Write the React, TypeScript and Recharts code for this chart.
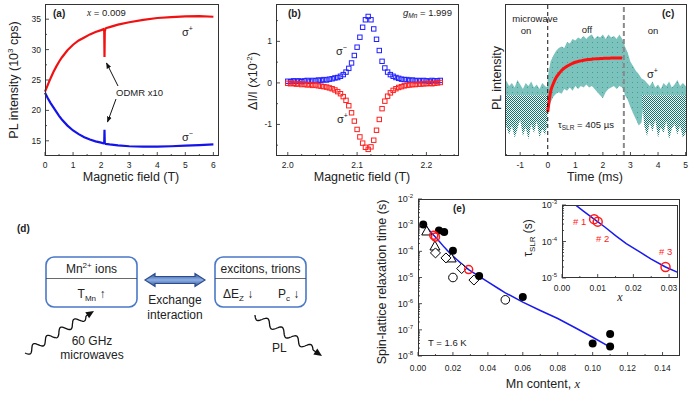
import React from "react";
import {
  LineChart,
  Line,
  XAxis,
  YAxis,
  ScatterChart,
  Scatter,
  ComposedChart,
  Area,
  ReferenceLine,
} from "recharts";

const FONT = "'Liberation Sans', Arial, Helvetica, sans-serif";
const SERIF = "'Liberation Serif', 'DejaVu Serif', serif";

// (a) PL intensity vs magnetic field, x = 0.009
const fieldA = [0, 0.1, 0.2, 0.3, 0.4, 0.5, 0.6, 0.8, 1.0, 1.2, 1.4, 1.6, 1.8, 2.0, 2.08, 2.11, 2.12, 2.13, 2.16, 2.3, 2.6, 3.0, 3.5, 4.0, 4.5, 5.0, 5.5, 6.0];
const plPlusA = [23.1, 24.2, 25.3, 26.3, 27.2, 28.0, 28.7, 29.9, 30.8, 31.5, 32.0, 32.5, 32.9, 33.2, 33.35, 33.0, 28.8, 33.0, 33.5, 33.7, 34.1, 34.5, 34.9, 35.2, 35.35, 35.45, 35.5, 35.4];
const plMinusA = [22.9, 22.0, 21.2, 20.5, 19.8, 19.1, 18.5, 17.5, 16.7, 16.1, 15.6, 15.2, 14.9, 14.7, 14.6, 14.7, 16.8, 14.6, 14.5, 14.4, 14.25, 14.1, 14.05, 14.05, 14.1, 14.2, 14.3, 14.4];

// (b) ODMR signal dI/I (x1e-2)
const fieldB = [
  2.0, 2.004, 2.008, 2.012, 2.016, 2.02, 2.024, 2.028, 2.032, 2.036, 2.04, 2.044, 2.048, 2.052,
  2.056, 2.06, 2.064, 2.068, 2.072, 2.076, 2.08, 2.084, 2.088, 2.092, 2.096, 2.1, 2.104, 2.108,
  2.112, 2.116, 2.12, 2.124, 2.128, 2.132, 2.136, 2.14, 2.144, 2.148, 2.152, 2.156, 2.16, 2.164,
  2.168, 2.172, 2.176, 2.18, 2.184, 2.188, 2.192, 2.196, 2.2, 2.204, 2.208, 2.212, 2.216, 2.22,
];
const odmrMinus = [
  0.04, 0.03, 0.05, 0.04, 0.05, 0.03, 0.05, 0.06, 0.04, 0.06, 0.05, 0.07, 0.06, 0.08,
  0.07, 0.09, 0.1, 0.12, 0.13, 0.16, 0.2, 0.26, 0.35, 0.48, 0.66, 0.86, 1.1, 1.34,
  1.52, 1.6, 1.52, 1.3, 1.05, 0.78, 0.52, 0.36, 0.26, 0.2, 0.16, 0.13, 0.11, 0.09,
  0.08, 0.08, 0.06, 0.07, 0.05, 0.06, 0.05, 0.06, 0.05, 0.04, 0.06, 0.05, 0.05, 0.06,
];
const odmrPlus = [
  -0.01, -0.02, -0.01, -0.03, -0.02, -0.04, -0.03, -0.05, -0.04, -0.06, -0.05, -0.07, -0.08, -0.09,
  -0.1, -0.12, -0.14, -0.17, -0.21, -0.26, -0.33, -0.42, -0.55, -0.72, -0.92, -1.12, -1.3, -1.45,
  -1.55, -1.6, -1.54, -1.38, -1.14, -0.88, -0.62, -0.44, -0.32, -0.24, -0.18, -0.14, -0.11, -0.09,
  -0.07, -0.06, -0.05, -0.04, -0.04, -0.03, -0.03, -0.02, -0.02, -0.01, -0.02, -0.01, 0.0, 0.01,
];

// (c) time-resolved PL (arb. units 0..100): noise envelope, dense "on" floor, fit
const timeC = [
  -1.55, -1.4, -1.3, -1.2, -1.1, -1.0, -0.9, -0.8, -0.7, -0.6, -0.5, -0.4, -0.3, -0.2, -0.1, -0.02,
  0, 0.1, 0.2, 0.3, 0.4, 0.5, 0.6, 0.7, 0.8, 0.9, 1.0, 1.1, 1.2, 1.3, 1.4, 1.5, 1.6, 1.7, 1.8, 1.9,
  2.0, 2.1, 2.2, 2.3, 2.4, 2.5, 2.6, 2.7, 2.76,
  2.8, 2.9, 3.0, 3.1, 3.2, 3.3, 3.4, 3.5, 3.6, 3.7, 3.8, 3.9, 4.0, 4.1, 4.2, 4.3, 4.4, 4.5, 4.6, 4.7,
  4.8, 4.9, 5.05,
];
const noiseHi = [
  51, 46, 48, 45, 50, 47, 44, 48, 46, 49, 45, 47, 44, 48, 46, 45,
  52, 62, 66, 69, 71, 72, 71, 75, 74, 77, 76, 78, 77, 79, 77, 79, 80, 77, 79, 78,
  80, 77, 80, 78, 79, 77, 80, 77, 75,
  72, 68, 62, 59, 56, 54, 51, 50, 48, 46, 49, 45, 47, 44, 48, 46, 49, 45, 47, 50,
  46, 48, 45,
];
const noiseLo = [
  40, 40, 40, 40, 40, 40, 40, 40, 40, 40, 40, 40, 40, 40, 40, 40,
  29, 35, 39, 41, 42, 41, 44, 43, 45, 43, 46, 44, 46, 45, 47, 45, 46, 44, 42, 40,
  38, 42, 44, 45, 46, 44, 46, 45, 43,
  40, 37, 32, 28, 24, 20, 22, 40, 40, 40, 40, 40, 40, 40, 40, 40, 40, 40, 40, 40,
  40, 40, 40,
];
const floorTop = 40;
const floorLo = [
  22, 14, 20, 12, 18, 24, 13, 19, 11, 21, 15, 23, 12, 18, 14, 20,
  40, 40, 40, 40, 40, 40, 40, 40, 40, 40, 40, 40, 40, 40, 40, 40, 40, 40, 40, 40,
  40, 40, 40, 40, 40, 40, 40, 40, 40,
  40, 40, 40, 40, 40, 40, 40, 20, 13, 22, 16, 24, 12, 19, 15, 23, 11, 18, 21, 14,
  20, 12, 17,
];
const fitC: (number | null)[] = [
  null, null, null, null, null, null, null, null, null, null, null, null, null, null, null, null,
  29, 42, 47.5, 51.5, 54, 56.2, 57.8, 59, 60, 61, 61.7, 62.2, 62.6, 63, 63.3, 63.5, 63.7, 63.9, 64, 64.1,
  64.2, 64.3, 64.3, 64.4, 64.4, 64.5, 64.5, 64.5, null,
  null, null, null, null, null, null, null, null, null, null, null, null, null, null, null, null, null, null, null, null,
  null, null, null,
];

// (e) spin-lattice relaxation time vs Mn content
const filledX = [0.003, 0.012, 0.015, 0.02, 0.035, 0.06, 0.1, 0.11, 0.11];
const filledY = [1.05e-3, 6.3e-4, 5.5e-4, 1.05e-4, 1.15e-5, 1.8e-6, 3e-8, 7e-8, 2.3e-8];
const openCircX = [0.02, 0.05];
const openCircY = [1e-5, 1.4e-6];
const diamondX = [0.01, 0.016, 0.025, 0.032];
const diamondY = [8.7e-5, 5.6e-5, 2.2e-5, 8e-6];
const triangleX = [0.005, 0.0097, 0.019];
const triangleY = [6e-4, 1.6e-4, 5.6e-5];
const sampleX = [0.009, 0.01, 0.029];
const sampleY = [4.1e-4, 3.5e-4, 2.0e-5];
const sampleNames = ["# 1", "# 2", "# 3"];
const fitX = [0.003, 0.006, 0.009, 0.012, 0.015, 0.018, 0.022, 0.025, 0.029, 0.033, 0.04, 0.046, 0.05, 0.06, 0.07, 0.08, 0.09, 0.1, 0.11];
const fitY = [1.15e-3, 6.8e-4, 4.1e-4, 2.5e-4, 1.45e-4, 8.8e-5, 5.0e-5, 3.3e-5, 2.0e-5, 1.35e-5, 6.8e-6, 3.8e-6, 2.6e-6, 1.15e-6, 5.5e-7, 2.7e-7, 1.2e-7, 5.2e-8, 2.2e-8];

// ticks
const ticksAx = [0, 0.5, 1, 1.5, 2, 2.5, 3, 3.5, 4, 4.5, 5, 5.5, 6];
const ticksAy = [15, 17.5, 20, 22.5, 25, 27.5, 30, 32.5, 35];
const ticksBx = [2.0, 2.02, 2.04, 2.06, 2.08, 2.1, 2.12, 2.14, 2.16, 2.18, 2.2, 2.22, 2.24];
const ticksBy = [-1.5, -1, -0.5, 0, 0.5, 1, 1.5];
const ticksCx = [-1.5, -1, -0.5, 0, 0.5, 1, 1.5, 2, 2.5, 3, 3.5, 4, 4.5, 5];
const ticksEx = [0, 0.01, 0.02, 0.03, 0.04, 0.05, 0.06, 0.07, 0.08, 0.09, 0.1, 0.11, 0.12, 0.13, 0.14];
const decadesE = [1e-8, 1e-7, 1e-6, 1e-5, 1e-4, 1e-3, 1e-2];
const ticksInsetX = [0, 0.005, 0.01, 0.015, 0.02, 0.025, 0.03];
const decadesInset = [1e-5, 1e-4, 1e-3];

const logMinors = (dec: number[]) =>
  dec.slice(0, -1).flatMap((d) => [2, 3, 4, 5, 6, 7, 8, 9].map((m) => m * d));
const onGrid = (step: number) => (v: number) => Math.abs(v / step - Math.round(v / step)) < 1e-6;
const isDecade = (v: number) => Math.abs(Math.log10(v) - Math.round(Math.log10(v))) < 1e-6;
const pow10 = (v: number) => (
  <>
    <tspan>10</tspan>
    <tspan dy={-4} fontSize={6}>{Math.round(Math.log10(v))}</tspan>
  </>
);

type TickCfg = {
  side: "bottom" | "left";
  isMajor: (v: number) => boolean;
  fmt: (v: number) => React.ReactNode;
  len?: number;
  minor?: number;
  fs?: number;
  gap?: number;
};
const tickRenderer = (c: TickCfg) => (p: any) => {
  const { x, y, payload } = p;
  const v = Number(payload.value);
  const maj = c.isMajor(v);
  const len = maj ? c.len ?? 4 : c.minor ?? 2;
  const fs = c.fs ?? 8.5;
  if (c.side === "bottom") {
    return (
      <g>
        <line x1={x} x2={x} y1={y} y2={y - len} stroke="#222" strokeWidth={0.8} />
        {maj && (
          <text x={x} y={y + (c.gap ?? 12)} textAnchor="middle" fontSize={fs} fill="#222" fontFamily={FONT}>
            {c.fmt(v)}
          </text>
        )}
      </g>
    );
  }
  return (
    <g>
      <line x1={x} x2={x + len} y1={y} y2={y} stroke="#222" strokeWidth={0.8} />
      {maj && (
        <text x={x - (c.gap ?? 4)} y={y + fs * 0.35} textAnchor="end" fontSize={fs} fill="#222" fontFamily={FONT}>
          {c.fmt(v)}
        </text>
      )}
    </g>
  );
};

const rowsA = fieldA.map((f, i) => ({ f, plus: plPlusA[i], minus: plMinusA[i] }));
const rowsBminus = fieldB.map((x, i) => ({ x, y: odmrMinus[i] }));
const rowsBplus = fieldB.map((x, i) => ({ x, y: odmrPlus[i] }));
const rowsC = timeC.map((t, i) => ({
  t,
  noise: [noiseLo[i], noiseHi[i]],
  floor: [floorLo[i], floorTop],
  fit: fitC[i],
}));
const pts = (xs: number[], ys: number[]) => xs.map((x, i) => ({ x, y: ys[i] }));
const rowsFit = pts(fitX, fitY);

const square = (color: string) => (p: any) => (
  <rect x={p.cx - 2.2} y={p.cy - 2.2} width={4.4} height={4.4} fill="none" stroke={color} strokeWidth={1} />
);
const dotShape = (p: any) => <circle cx={p.cx} cy={p.cy} r={4} fill="#000" />;
const openCircle = (p: any) => <circle cx={p.cx} cy={p.cy} r={4.3} fill="#fff" stroke="#000" strokeWidth={1} />;
const diamond = (p: any) => (
  <path d={`M${p.cx},${p.cy - 5}L${p.cx + 5},${p.cy}L${p.cx},${p.cy + 5}L${p.cx - 5},${p.cy}Z`} fill="#fff" stroke="#000" strokeWidth={1} />
);
const triangle = (p: any) => (
  <path d={`M${p.cx},${p.cy - 5}L${p.cx + 5},${p.cy + 4}L${p.cx - 5},${p.cy + 4}Z`} fill="#fff" stroke="#000" strokeWidth={1} />
);
const redRing = (r: number) => (p: any) => (
  <circle cx={p.cx} cy={p.cy} r={r} fill="none" stroke="#ff1a1a" strokeWidth={1.5} />
);
const noShape = () => <g />;

function wave(x0: number, y0: number, x1: number, y1: number, periods: number, amp: number) {
  const dx = x1 - x0;
  const dy = y1 - y0;
  const L = Math.hypot(dx, dy);
  const nx = -dy / L;
  const ny = dx / L;
  let d = "";
  for (let i = 0; i <= 90; i++) {
    const s = i / 90;
    const o = amp * Math.sin(s * periods * 2 * Math.PI);
    d += (i ? "L" : "M") + (x0 + dx * s + nx * o).toFixed(1) + "," + (y0 + dy * s + ny * o).toFixed(1);
  }
  return d;
}
function head(x0: number, y0: number, x1: number, y1: number, size: number) {
  const L = Math.hypot(x1 - x0, y1 - y0);
  const ux = (x1 - x0) / L;
  const uy = (y1 - y0) / L;
  const bx = x1 - ux * size;
  const by = y1 - uy * size;
  const w = size * 0.45;
  return `M${x1},${y1}L${bx - uy * w},${by + ux * w}L${bx + uy * w},${by - ux * w}Z`;
}

const pos = (left: number, top: number): React.CSSProperties => ({ position: "absolute", left, top });

export default function App() {
  const tA = tickRenderer;
  return (
    <div style={{ position: "absolute", left: 0, top: 0, width: 689, height: 393, background: "#fff", overflow: "hidden", fontFamily: FONT }}>
      {/* (a) */}
      <div style={pos(0, 0)}>
        <LineChart width={230} height={200} data={rowsA} margin={{ top: 4, right: 11, bottom: 24, left: 0 }}>
          <XAxis dataKey="f" type="number" domain={[0, 6.2]} ticks={ticksAx} interval={0} height={20} axisLine={false} tickLine={false} tickSize={0} tickMargin={0}
            tick={tA({ side: "bottom", isMajor: onGrid(1), fmt: (v) => String(v) })} />
          <YAxis type="number" domain={[12.5, 37.5]} ticks={ticksAy} interval={0} width={45} axisLine={false} tickLine={false} tickSize={0} tickMargin={0}
            tick={tA({ side: "left", isMajor: onGrid(5), fmt: (v) => String(v) })} />
          <Line dataKey="plus" type="linear" stroke="#f01212" strokeWidth={2.2} dot={false} isAnimationActive={false} />
          <Line dataKey="minus" type="linear" stroke="#1414e8" strokeWidth={2.2} dot={false} isAnimationActive={false} />
        </LineChart>
      </div>

      {/* (b) */}
      <div style={pos(230, 0)}>
        <ScatterChart width={230} height={200} margin={{ top: 4, right: 1, bottom: 24, left: 0 }}>
          <XAxis dataKey="x" type="number" domain={[1.983, 2.247]} ticks={ticksBx} interval={0} height={20} axisLine={false} tickLine={false} tickSize={0} tickMargin={0}
            tick={tA({ side: "bottom", isMajor: onGrid(0.1), fmt: (v) => v.toFixed(1) })} />
          <YAxis dataKey="y" type="number" domain={[-1.76, 1.9]} ticks={ticksBy} interval={0} width={46} axisLine={false} tickLine={false} tickSize={0} tickMargin={0}
            tick={tA({ side: "left", isMajor: onGrid(1), fmt: (v) => String(v) })} />
          <Scatter data={rowsBminus} shape={square("#2020ff")} isAnimationActive={false} />
          <Scatter data={rowsBplus} shape={square("#ff2020")} isAnimationActive={false} />
        </ScatterChart>
      </div>

      {/* (c) */}
      <div style={pos(460, 0)}>
        <ComposedChart width={229} height={200} data={rowsC} margin={{ top: 4, right: 2, bottom: 24, left: 0 }}>
          <defs>
            <pattern id="lightDots" width="5" height="5" patternUnits="userSpaceOnUse">
              <rect width="5" height="5" fill="#7cc3be" />
              <rect x="2" y="2" width="1" height="1" fill="#3f9d95" />
            </pattern>
            <pattern id="hatch" width="2" height="2" patternUnits="userSpaceOnUse">
              <rect width="2" height="2" fill="#ffffff" />
              <rect x="0" y="0" width="1" height="1" fill="#0c7a6f" />
              <rect x="1" y="1" width="1" height="1" fill="#0c7a6f" />
            </pattern>
          </defs>
          <XAxis dataKey="t" type="number" domain={[-1.55, 5.05]} ticks={ticksCx} interval={0} height={20} axisLine={false} tickLine={false} tickSize={0} tickMargin={0}
            tick={tA({ side: "bottom", isMajor: onGrid(1), fmt: (v) => String(v) })} />
          <YAxis type="number" domain={[0, 100]} width={45} axisLine={false} tickLine={false} tick={false} />
          <Area dataKey="noise" type="linear" stroke="none" fill="url(#lightDots)" fillOpacity={1} isAnimationActive={false} />
          <Area dataKey="floor" type="linear" stroke="none" fill="url(#hatch)" fillOpacity={1} isAnimationActive={false} />
          <Line dataKey="fit" type="monotone" stroke="#ff1010" strokeWidth={3} dot={false} connectNulls={false} isAnimationActive={false} />
          <ReferenceLine x={0} stroke="#111" strokeDasharray="4 3" strokeWidth={1} />
          <ReferenceLine x={2.76} stroke="#8a8a8a" strokeDasharray="5 3" strokeWidth={2} />
        </ComposedChart>
      </div>

      {/* (e) main */}
      <div style={pos(350, 190)}>
        <ScatterChart width={339} height={203} margin={{ top: 9, right: 9, bottom: 17, left: 0 }}>
          <XAxis dataKey="x" type="number" domain={[0, 0.15]} ticks={ticksEx} interval={0} height={20} axisLine={false} tickLine={false} tickSize={0} tickMargin={0}
            tick={tA({ side: "bottom", isMajor: onGrid(0.02), fmt: (v) => v.toFixed(2), gap: 15 })} />
          <YAxis dataKey="y" type="number" scale="log" domain={[1e-8, 1e-2]} allowDataOverflow ticks={[...decadesE, ...logMinors(decadesE)]} interval={0} width={68}
            axisLine={false} tickLine={false} tickSize={0} tickMargin={0}
            tick={tA({ side: "left", isMajor: isDecade, fmt: pow10, gap: 5, fs: 9 })} />
          <Scatter data={rowsFit} line={{ stroke: "#1a1aef", strokeWidth: 1.5 }} shape={noShape} isAnimationActive={false} />
          <Scatter data={pts(triangleX, triangleY)} shape={triangle} isAnimationActive={false} />
          <Scatter data={pts(diamondX, diamondY)} shape={diamond} isAnimationActive={false} />
          <Scatter data={pts(openCircX, openCircY)} shape={openCircle} isAnimationActive={false} />
          <Scatter data={pts(filledX, filledY)} shape={dotShape} isAnimationActive={false} />
          <Scatter data={pts(sampleX, sampleY)} shape={redRing(4)} isAnimationActive={false} />
        </ScatterChart>
      </div>

      {/* (e) inset */}
      <div style={{ position: "absolute", left: 562, top: 205, width: 116, height: 73, background: "#fff" }} />
      <div style={pos(540, 195)}>
        <ScatterChart width={149} height={100} margin={{ top: 10, right: 11, bottom: 5, left: 0 }}>
          <XAxis dataKey="x" type="number" domain={[0, 0.0325]} allowDataOverflow ticks={ticksInsetX} interval={0} height={12} axisLine={false} tickLine={false} tickSize={0} tickMargin={0}
            tick={tA({ side: "bottom", isMajor: onGrid(0.01), fmt: (v) => v.toFixed(2), gap: 13 })} />
          <YAxis dataKey="y" type="number" scale="log" domain={[1e-5, 1e-3]} allowDataOverflow ticks={[...decadesInset, ...logMinors(decadesInset)]} interval={0} width={22}
            axisLine={false} tickLine={false} tickSize={0} tickMargin={0}
            tick={tA({ side: "left", isMajor: isDecade, fmt: pow10, gap: 5, fs: 9 })} />
          <Scatter data={rowsFit} line={{ stroke: "#1a1aef", strokeWidth: 1.5 }} shape={noShape} isAnimationActive={false} />
          <Scatter data={pts(sampleX, sampleY)} shape={redRing(4.5)} isAnimationActive={false} />
        </ScatterChart>
      </div>

      {/* frames, labels, diagram */}
      <svg width={689} height={393} style={{ position: "absolute", left: 0, top: 0, pointerEvents: "none" }} fontFamily={FONT} fill="#222">
        <defs>
          <marker id="ah" viewBox="0 0 10 10" refX="9" refY="5" markerWidth="6" markerHeight="6" orient="auto">
            <path d="M0,1 L10,5 L0,9 z" fill="#111" />
          </marker>
          <linearGradient id="dbl" x1="0" y1="0" x2="0" y2="1">
            <stop offset="0" stopColor="#2b4f92" />
            <stop offset="0.5" stopColor="#8fb0e6" />
            <stop offset="1" stopColor="#2b4f92" />
          </linearGradient>
        </defs>
        <g fill="none" stroke="#333" strokeWidth={1}>
          <rect x={45.5} y={4.5} width={173} height={151} />
          <rect x={276.5} y={4.5} width={182} height={151} />
          <rect x={505.5} y={4.5} width={181} height={151} />
          <rect x={418.5} y={199.5} width={261} height={156} />
          <rect x={562.5} y={205.5} width={115} height={72} />
        </g>

        {/* (a) */}
        <text x={53} y={17} fontSize={10} fontWeight="bold">(a)</text>
        <text x={87} y={16} fontSize={9.5}><tspan fontFamily={SERIF} fontStyle="italic">x</tspan> = 0.009</text>
        <text x={182} y={36} fontSize={11}>σ<tspan dy={-5} fontSize={7}>+</tspan></text>
        <text x={182} y={141} fontSize={11}>σ<tspan dy={-5} fontSize={7}>−</tspan></text>
        <text x={116} y={96} fontSize={9.5}>ODMR x10</text>
        <line x1={118} y1={86} x2={106.5} y2={63} stroke="#111" strokeWidth={1} markerEnd="url(#ah)" />
        <line x1={116} y1={99} x2={107.5} y2={122} stroke="#111" strokeWidth={1} markerEnd="url(#ah)" />
        <text x={131} y={181} fontSize={12.5} textAnchor="middle">Magnetic field (T)</text>
        <text transform="translate(18,80) rotate(-90)" fontSize={12.5} textAnchor="middle">
          PL intensity (10<tspan dy={-5} fontSize={8}>3</tspan><tspan dy={5}> cps)</tspan>
        </text>

        {/* (b) */}
        <text x={288} y={17} fontSize={10} fontWeight="bold">(b)</text>
        <text x={403} y={16} fontSize={9.5}>
          <tspan fontStyle="italic">g</tspan><tspan dy={2} fontSize={6.5} fontStyle="italic">Mn</tspan><tspan dy={-2}> = 1.999</tspan>
        </text>
        <text x={336} y={55} fontSize={11}>σ<tspan dy={-5} fontSize={7}>−</tspan></text>
        <text x={337} y={123} fontSize={11}>σ<tspan dy={-5} fontSize={7}>+</tspan></text>
        <text x={362} y={181} fontSize={12.5} textAnchor="middle">Magnetic field (T)</text>
        <text transform="translate(257,81) rotate(-90)" fontSize={12.5} textAnchor="middle">
          ΔI/I (x10<tspan dy={-5} fontSize={8}>-2</tspan><tspan dy={5}>)</tspan>
        </text>

        {/* (c) */}
        <text x={662} y={17} fontSize={10} fontWeight="bold">(c)</text>
        <text x={535} y={22} fontSize={9.5} textAnchor="middle">microwave</text>
        <text x={526} y={34} fontSize={9.5} textAnchor="middle">on</text>
        <text x={587} y={33} fontSize={9.5} textAnchor="middle">off</text>
        <text x={653} y={34} fontSize={9.5} textAnchor="middle">on</text>
        <text x={647} y={78} fontSize={11}>σ<tspan dy={-5} fontSize={7}>+</tspan></text>
        <text x={558} y={128} fontSize={9.5}>
          τ<tspan dy={2} fontSize={6.5}>SLR</tspan><tspan dy={-2}> = 405 µs</tspan>
        </text>
        <text x={595} y={181} fontSize={12.5} textAnchor="middle">Time (ms)</text>
        <text transform="translate(501,78) rotate(-90)" fontSize={12.5} textAnchor="middle">PL intensity</text>

        {/* (d) */}
        <text x={17} y={232} fontSize={10} fontWeight="bold">(d)</text>
        <rect x={46} y={257} width={91} height={50} rx={8} fill="#fff" stroke="#4a78c8" strokeWidth={1.6} />
        <line x1={46} x2={137} y1={278.5} y2={278.5} stroke="#444" strokeWidth={0.8} />
        <text x={91.5} y={273} fontSize={12} textAnchor="middle">
          Mn<tspan dy={-5} fontSize={8}>2+</tspan><tspan dy={5}> ions</tspan>
        </text>
        <text x={91.5} y={298} fontSize={12} textAnchor="middle">
          T<tspan dy={3} fontSize={8}>Mn</tspan><tspan dy={-3}> ↑</tspan>
        </text>
        <rect x={215} y={257} width={91} height={50} rx={8} fill="#fff" stroke="#4a78c8" strokeWidth={1.6} />
        <line x1={215} x2={306} y1={278.5} y2={278.5} stroke="#444" strokeWidth={0.8} />
        <text x={260.5} y={273} fontSize={12} textAnchor="middle">excitons, trions</text>
        <text x={223} y={298} fontSize={12}>
          ΔE<tspan dy={3} fontSize={8}>Z</tspan><tspan dy={-3}> ↓</tspan>
        </text>
        <text x={278} y={298} fontSize={12}>
          P<tspan dy={3} fontSize={8}>c</tspan><tspan dy={-3}> ↓</tspan>
        </text>
        <path d="M145,280 L155,273.5 L155,276.5 L195,276.5 L195,273.5 L205,280 L195,286.5 L195,283.5 L155,283.5 L155,286.5 Z"
          fill="url(#dbl)" stroke="#2b4c8c" strokeWidth={1.2} />
        <text x={175} y={304} fontSize={12} textAnchor="middle">Exchange</text>
        <text x={175} y={319} fontSize={12} textAnchor="middle">interaction</text>
        <path d={wave(25, 353, 86, 316, 4.5, 3.5)} fill="none" stroke="#111" strokeWidth={1.3} />
        <line x1={86} y1={316} x2={89} y2={314} stroke="#111" strokeWidth={1.3} />
        <path d={head(86, 316, 94, 311, 8)} fill="#111" />
        <text x={92} y={345} fontSize={12} textAnchor="middle">60 GHz</text>
        <text x={92} y={359} fontSize={12} textAnchor="middle">microwaves</text>
        <path d={wave(255, 315, 313, 350, 4, 3.5)} fill="none" stroke="#111" strokeWidth={1.3} />
        <line x1={313} y1={350} x2={316} y2={352} stroke="#111" strokeWidth={1.3} />
        <path d={head(313, 350, 322, 356, 8)} fill="#111" />
        <text x={272} y={352} fontSize={12}>PL</text>

        {/* (e) */}
        <text x={453} y={212} fontSize={10} fontWeight="bold">(e)</text>
        <text x={428} y={346} fontSize={9.5}>T = 1.6 K</text>
        <text x={543} y={388} fontSize={12.5} textAnchor="middle">
          Mn content, <tspan fontFamily={SERIF} fontStyle="italic">x</tspan>
        </text>
        <text transform="translate(386,282) rotate(-90)" fontSize={12.5} textAnchor="middle">
          Spin-lattice relaxation time (s)
        </text>
        <text transform="translate(532,238) rotate(-90)" fontSize={12} textAnchor="middle">
          τ<tspan dy={3} fontSize={8}>SLR</tspan><tspan dy={-3}> (s)</tspan>
        </text>
        <text x={620} y={301} fontSize={12} textAnchor="middle" fontFamily={SERIF} fontStyle="italic">x</text>
        <text x={573} y={225} fontSize={9.5} fill="#ff1a1a">{sampleNames[0]}</text>
        <text x={596} y={242} fontSize={9.5} fill="#ff1a1a">{sampleNames[1]}</text>
        <text x={659} y={255} fontSize={9.5} fill="#ff1a1a">{sampleNames[2]}</text>
      </svg>
    </div>
  );
}
